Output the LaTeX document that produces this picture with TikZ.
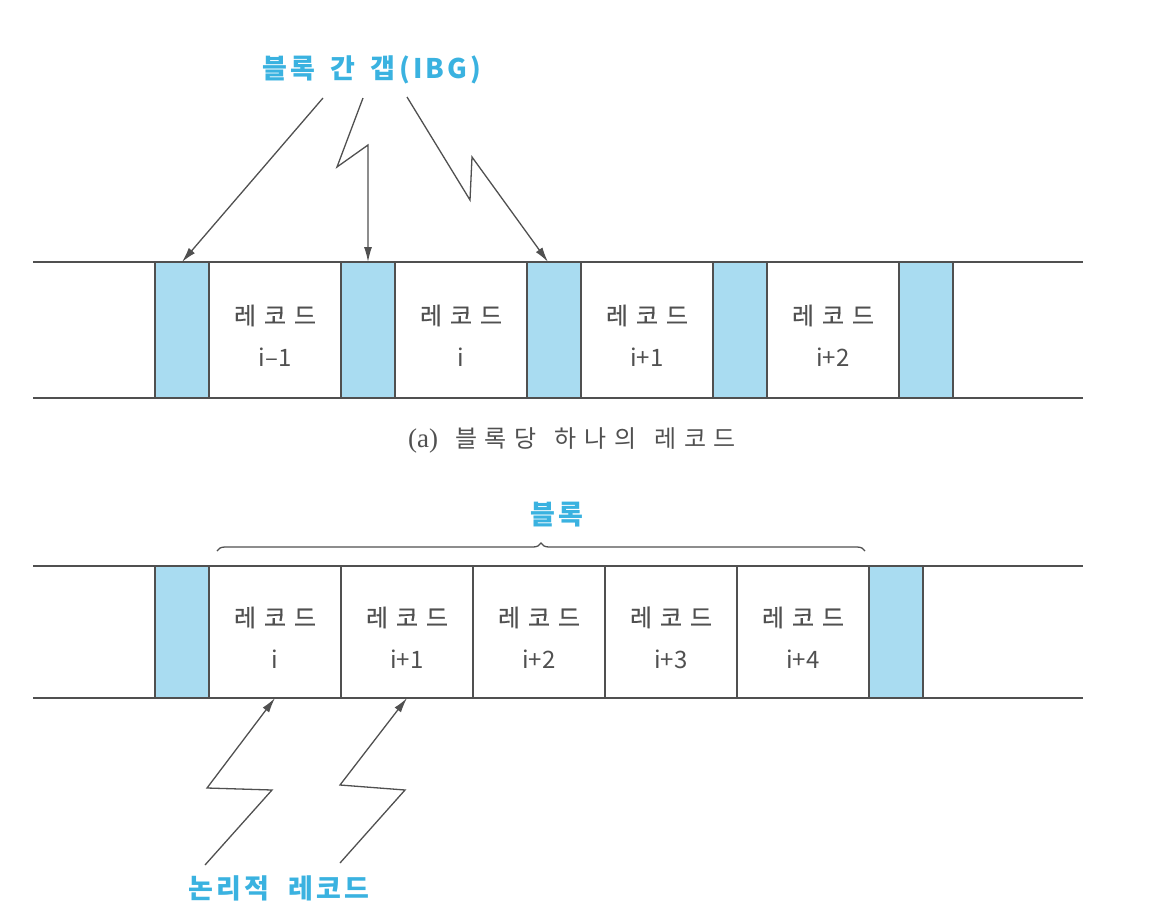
\documentclass[tikz,border=0pt]{standalone}
\usepackage{fontspec}
\setmainfont{Noto Sans CJK KR}
\newfontfamily\capfont{Liberation Serif}
\newfontfamily\widefont[LetterSpace=33, FakeBold=0.6]{Noto Sans CJK KR}
\newfontfamily\calloutfont[LetterSpace=12]{Noto Sans CJK KR}
\newfontfamily\captionfont[LetterSpace=32]{Noto Sans CJK KR}
\usepackage{tikz}
\usetikzlibrary{positioning, arrows.meta, decorations.pathreplacing}
\definecolor{GapBlue}{HTML}{A9DCF1}
\definecolor{LabelCyan}{HTML}{3AB2E0}
\definecolor{InkGrey}{HTML}{505050}
\newcommand{\recfont}{\fontsize{24}{42}\selectfont}
\newcommand{\rec}[1]{\rule{0pt}{31pt}{\widefont 레코드}\\#1}

\begin{document}
\begin{tikzpicture}[x=1pt, y=-1pt, >={Latex[length=15pt,width=8pt]}, every node/.style={outer sep=0pt}]
    \tikzstyle{gap} = [rectangle, draw=InkGrey, fill=GapBlue, line width=1.3pt, minimum width=54pt, minimum height=136pt, inner sep=0pt]
    \tikzstyle{record} = [rectangle, draw=InkGrey, line width=1.3pt, minimum width=132pt, minimum height=136pt, inner sep=0pt, align=center, text=InkGrey, font=\recfont]
    \tikzstyle{tape} = [draw=InkGrey, line width=1.3pt]
    \tikzstyle{ptr} = [draw=InkGrey, ->, line width=1.3pt]
    \tikzstyle{callout} = [text=LabelCyan, font=\calloutfont\fontsize{27}{32}\selectfont\bfseries]
    \useasboundingbox (0,0) rectangle (1175,913);

    % (a) one record per block
    \draw[tape] (33,262) -- (1083,262);
    \draw[tape] (33,398) -- (1083,398);
    \node [gap, anchor=north west] (g1) at (155,262) {};
    \node [record, right=0pt of g1] (r1) {\rec{i–1}};
    \node [gap, right=0pt of r1] (g2) {};
    \node [record, right=0pt of g2] (r2) {\rec{i}};
    \node [gap, right=0pt of r2] (g3) {};
    \node [record, right=0pt of g3] (r3) {\rec{i+1}};
    \node [gap, right=0pt of r3] (g4) {};
    \node [record, right=0pt of g4] (r4) {\rec{i+2}};
    \node [gap, right=0pt of r4] (g5) {};

    \node [callout] (ibg) at (372,70) {블록\hspace{6pt} 간\hspace{6pt} 갭(IBG)};
    \coordinate (ibg1) at (323,98);
    \coordinate (ibg2) at (363,98);
    \coordinate (ibg3) at (407,97);
    \path [ptr] (ibg1) -- (g1.north);
    \path [ptr] (ibg2) -- (337,167) -- (368,145) -- (g2.north);
    \path [ptr] (ibg3) -- (470,200) -- (472,157) -- ([xshift=-6pt]g3.north);

    \node [text=InkGrey, font=\captionfont\fontsize{24}{28}\selectfont] (capa) at (572,440) {{\capfont\fontsize{27}{28}\selectfont (a)}\hspace{4pt} 블록당\hspace{5pt} 하나의\hspace{5pt} 레코드};

    % (b) several records per block
    \draw[tape] (33,566) -- (1083,566);
    \draw[tape] (33,698) -- (1083,698);
    \node [gap, minimum height=132pt, anchor=north west] (bg1) at (155,566) {};
    \node [record, minimum height=132pt, right=0pt of bg1] (br1) {\rec{i}};
    \node [record, minimum height=132pt, right=0pt of br1] (br2) {\rec{i+1}};
    \node [record, minimum height=132pt, right=0pt of br2] (br3) {\rec{i+2}};
    \node [record, minimum height=132pt, right=0pt of br3] (br4) {\rec{i+3}};
    \node [record, minimum height=132pt, right=0pt of br4] (br5) {\rec{i+4}};
    \node [gap, minimum height=132pt, right=0pt of br5] (bg2) {};

    \draw [InkGrey, line width=1.3pt, decorate, decoration={brace, amplitude=8pt}] (217,551) -- (865,551);
    \node [callout] (blk) at (557,515) {블록};

    \node [callout] (logic) at (279,888) {논리적\hspace{10pt} 레코드};
    \coordinate (lr1) at (205,865);
    \coordinate (lr2) at (340,863);
    \path [ptr] (lr1) -- (272,790) -- (207,788) -- (br1.south);
    \path [ptr] (lr2) -- (405,790) -- (340,785) -- (br2.south);
\end{tikzpicture}
\end{document}
